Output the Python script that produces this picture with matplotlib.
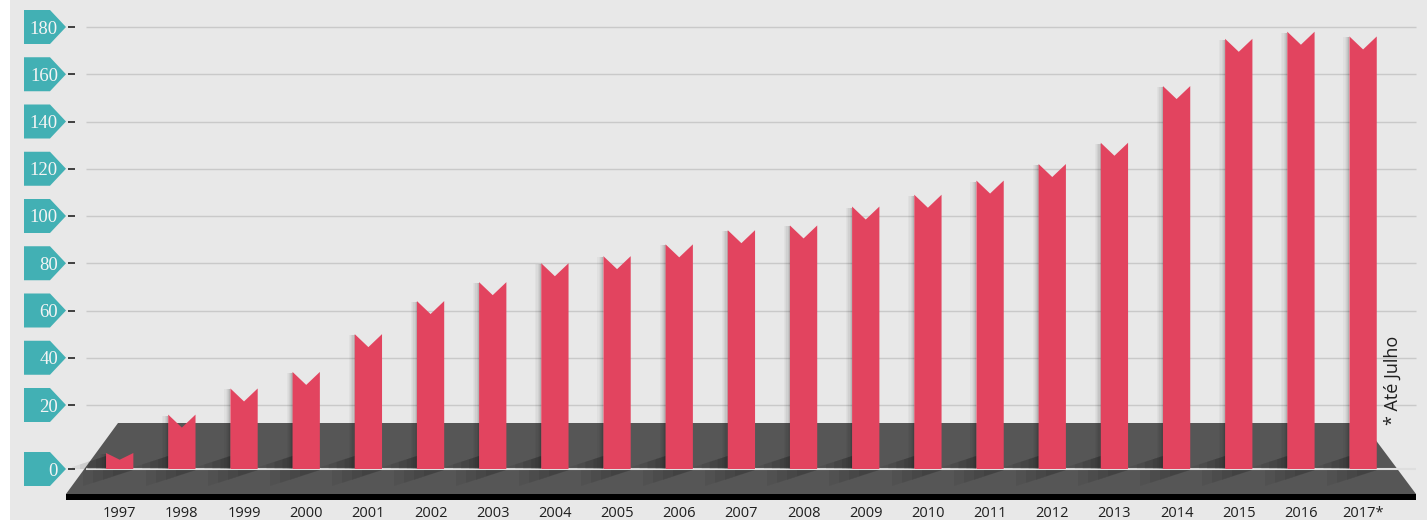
import numpy as np
import matplotlib
matplotlib.use('Agg')
import matplotlib.pyplot as plt
from matplotlib.patches import Polygon, Rectangle
from matplotlib.transforms import IdentityTransform, ScaledTranslation
from matplotlib.ticker import NullLocator

# ---------------- data ----------------
years = ['1997', '1998', '1999', '2000', '2001', '2002', '2003', '2004', '2005',
         '2006', '2007', '2008', '2009', '2010', '2011', '2012', '2013', '2014',
         '2015', '2016', '2017*']
values = [5, 17, 27, 34, 50, 64, 72, 80, 83, 88, 94, 96, 104, 109, 115, 122,
          131, 155, 175, 178, 176]
yticks = [0, 20, 40, 60, 80, 100, 120, 140, 160, 180]
ytick_labels = [str(t) for t in yticks]
note = '* Até Julho'

# ---------------- style ----------------
W, H = 1427, 520
BG = '#e8e8e8'
BAR = '#e2445f'
TEAL = '#42b0b4'
PLAT = '#565656'

fig = plt.figure(figsize=(W / 100, H / 100), dpi=100, facecolor=BG)
ax = fig.add_axes([0, 20 / H, 1, 500 / H])
ax.set_facecolor('none')

# axis of the original: 0 -> 20 spans a taller step than the other intervals
def fwd(v):
    v = np.asarray(v, dtype=float)
    return np.where(v < 20, v * 3.2, 64 + (v - 20) * 2.3625)

def inv(d):
    d = np.asarray(d, dtype=float)
    return np.where(d < 64, d / 3.2, 20 + (d - 64) / 2.3625)

ax.set_yscale('function', functions=(fwd, inv))
ax.set_ylim(float(inv(-31)), float(inv(469)))

pitch = 62.17
x0 = 119.7
ax.set_xlim(-x0 / pitch, (W - x0) / pitch)
bar_w = 27.3 / pitch

for s in ax.spines.values():
    s.set_visible(False)

idT = IdentityTransform()
base = ax.transData.transform((0, 0))[1]  # display y of zero line

# left white strip
fig.patches.append(Rectangle((0, 0), 10 / W, 1, transform=fig.transFigure,
                             facecolor='white', edgecolor='none', zorder=0))

# gridlines
ax.hlines(yticks[1:], 86 / W, 1416 / W, transform=ax.get_yaxis_transform(),
          colors='#c9c9c9', lw=1, zorder=1)

# platform
plat = Polygon([(118, base + 46), (1363, base + 46), (1416, base - 25), (66, base - 25)],
               closed=True, transform=idT, facecolor=PLAT, edgecolor='none', zorder=2)
ax.add_patch(plat)
ax.add_patch(Rectangle((66, base - 31), 1416 - 66, 6, transform=idT,
                       facecolor='black', edgecolor='none', zorder=2))
ax.hlines([0], 86 / W, 1416 / W, transform=ax.get_yaxis_transform(),
          colors='#dedede', lw=1.5, zorder=3)

# bars with chevron tops
for i, v in enumerate(values):
    xl, xr = i - bar_w / 2, i + bar_w / 2
    h = float(fwd(v))
    notch = min(13.0, 0.42 * h)
    vn = float(inv(h - notch))
    ax.add_patch(Polygon([(xl, 0), (xl, v), (i, vn), (xr, v), (xr, 0)], closed=True,
                         facecolor=BAR, edgecolor='none', zorder=6))
    # soft shadows
    XL = ax.transData.transform((xl, 0))[0]
    XR = ax.transData.transform((xr, 0))[0]
    top = ax.transData.transform((0, v))[1]
    for k, a in enumerate([0.22, 0.15, 0.1, 0.06, 0.03]):
        ax.add_patch(Rectangle((XL - (k + 1) * 1.2, base), 1.2, top - base - 1,
                               transform=idT, facecolor='black', alpha=a,
                               edgecolor='none', zorder=4))
    for d, a in [(34, 0.06), (26, 0.06), (18, 0.07), (10, 0.07)]:
        ax.add_patch(Polygon([(XL - d, base), (XL, base), (XL, base + 13),
                              (XL - d, base + 2 + 11 * (1 - d / 34.0))],
                             closed=True, transform=idT, facecolor='black',
                             alpha=a, edgecolor='none', zorder=3))
    for d, a in [(50, 0.05), (40, 0.05), (30, 0.06), (20, 0.06)]:
        ax.add_patch(Polygon([(XR, base - 1), (XR - d, base - 1),
                              (XR - d, base - 1 - d * 0.32)],
                             closed=True, transform=idT, facecolor='black',
                             alpha=a, edgecolor='none', zorder=3))

# y ticks with teal pentagon badges
ax.spines['left'].set_position(('axes', 75 / W))
ax.set_yticks(yticks)
ax.set_yticklabels(ytick_labels)
ax.yaxis.set_minor_locator(NullLocator())
ax.tick_params(axis='y', length=7 * 0.72, width=1.3, color='#333333',
               pad=10 * 0.72, labelcolor='#f4f4f4', labelsize=13.5)
for lab in ax.get_yticklabels():
    lab.set_fontfamily('Liberation Serif')
for t in yticks:
    tr = fig.dpi_scale_trans + ScaledTranslation(0, t, ax.get_yaxis_transform())
    ax.add_patch(Polygon([(0.24, -0.17), (0.50, -0.17), (0.66, 0), (0.50, 0.17), (0.24, 0.17)],
                         closed=True, transform=tr, facecolor=TEAL, edgecolor='none',
                         zorder=1, clip_on=False))

# x ticks
ax.set_xticks(range(len(years)))
ax.set_xticklabels(years)
ax.xaxis.set_minor_locator(NullLocator())
ax.tick_params(axis='x', length=0, pad=4, labelsize=10.5, labelcolor='#1e1e1e')
for lab in ax.get_xticklabels():
    lab.set_fontfamily('Open Sans')

fig.text(1393 / W, 1 - 380 / H, note, rotation=90, ha='center', va='center',
         fontsize=13, family='Open Sans', color='#1e1e1e')

fig.savefig('out.png', dpi=100, facecolor=BG)
